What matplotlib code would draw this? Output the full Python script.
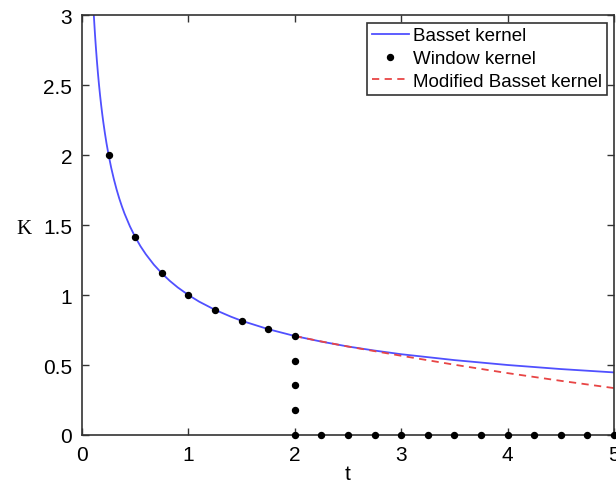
import matplotlib
matplotlib.use("Agg")
import matplotlib.pyplot as plt

# Basset kernel
basset_t = [0.111, 0.115, 0.12, 0.125, 0.13, 0.14, 0.15, 0.16, 0.17, 0.18, 0.19, 0.2, 0.215,
            0.23, 0.25, 0.275, 0.3, 0.325, 0.35, 0.375, 0.4, 0.45, 0.5, 0.55, 0.6, 0.675,
            0.75, 0.825, 0.9, 1.0, 1.1, 1.25, 1.4, 1.5, 1.75, 2.0, 2.25, 2.5, 2.75, 3.0,
            3.5, 4.0, 4.5, 5.0]
basset_k = [3.0, 2.949, 2.887, 2.828, 2.774, 2.673, 2.582, 2.5, 2.425, 2.357, 2.294, 2.236,
            2.157, 2.085, 2.0, 1.907, 1.826, 1.754, 1.690, 1.633, 1.581, 1.491, 1.414,
            1.348, 1.291, 1.217, 1.155, 1.101, 1.054, 1.0, 0.953, 0.894, 0.845, 0.816,
            0.756, 0.707, 0.667, 0.632, 0.603, 0.577, 0.535, 0.5, 0.471, 0.447]

# Window kernel points
window_t = [0.25, 0.5, 0.75, 1.0, 1.25, 1.5, 1.75, 2.0, 2.0, 2.0, 2.0, 2.0,
            2.25, 2.5, 2.75, 3.0, 3.25, 3.5, 3.75, 4.0, 4.25, 4.5, 4.75, 5.0]
window_k = [2.0, 1.414, 1.155, 1.0, 0.894, 0.816, 0.756, 0.707, 0.53, 0.354, 0.177, 0.0,
            0, 0, 0, 0, 0, 0, 0, 0, 0, 0, 0, 0]

# Modified Basset kernel
mod_t = [2.0, 2.25, 2.5, 3.0, 3.5, 4.0, 4.5, 5.0]
mod_k = [0.707, 0.668, 0.632, 0.566, 0.502, 0.442, 0.387, 0.335]

xticks = [0, 1, 2, 3, 4, 5]
yticks = [0, 0.5, 1, 1.5, 2, 2.5, 3]
ytick_labels = ["0", "0.5", "1", "1.5", "2", "2.5", "3"]

plt.rcParams['font.family'] = ['Liberation Sans', 'DejaVu Sans']

fig = plt.figure(figsize=(6.16, 4.85), dpi=100)
ax = fig.add_axes([82/616, 49/485, 532/616, 420/485])

ax.plot(basset_t, basset_k, color='#5050ff', lw=1.3, label='Basset kernel')
ax.plot(window_t, window_k, 'o', color='black', ms=4.3, ls='none', label='Window kernel',
        clip_on=False, zorder=5)
ax.plot(mod_t, mod_k, '--', color='#e84545', lw=1.3, dashes=(4, 3), label='Modified Basset kernel')

ax.set_xlim(0, 5)
ax.set_ylim(0, 3)
ax.set_xticks(xticks)
ax.set_xticklabels([str(v) for v in xticks])
ax.set_yticks(yticks)
ax.set_yticklabels(ytick_labels)
ax.tick_params(direction='in', top=True, right=True, length=5, width=1, color='#333333',
               labelsize=15, pad=7)
for s in ax.spines.values():
    s.set_color('#333333')
    s.set_linewidth(1.2)

ax.set_xlabel('t', fontsize=15, labelpad=0)
ax.set_ylabel('K', fontsize=15, rotation=0, family='Liberation Serif')
ax.yaxis.set_label_coords(-0.11, 0.47)

leg = ax.legend(loc='upper right', fontsize=13.5, frameon=True, fancybox=False,
                edgecolor='#333333', handlelength=2.0, handletextpad=0.2,
                borderpad=0.25, labelspacing=0.3, borderaxespad=0.4, framealpha=1)
leg.get_frame().set_linewidth(1.2)

fig.savefig('out.png', dpi=100)
